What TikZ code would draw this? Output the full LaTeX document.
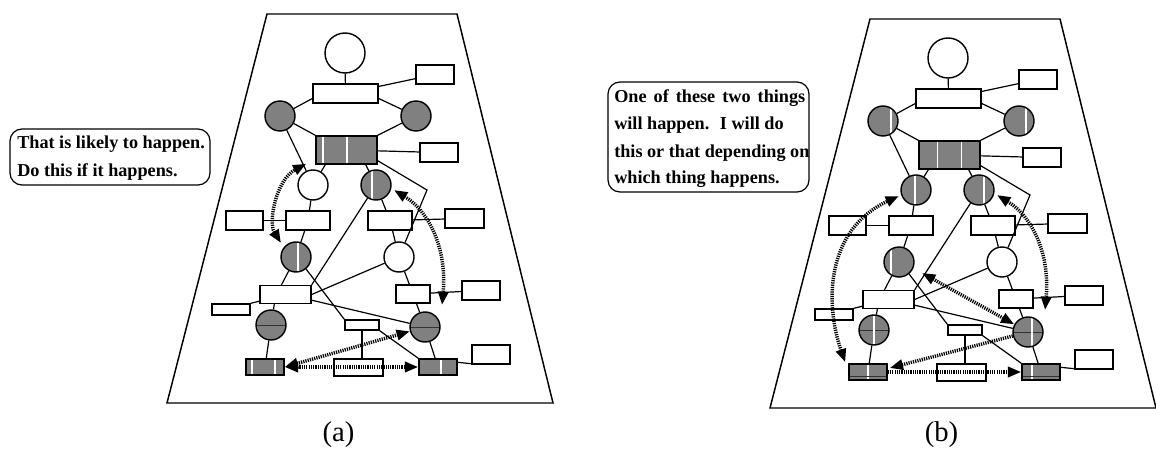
\documentclass[tikz,border=0pt]{standalone}
\usepackage{fontspec}
\setmainfont{Liberation Serif}
\usetikzlibrary{arrows.meta,calc}
\definecolor{dither}{gray}{0.5}

\tikzset{
  ink/.style={draw=black,line width=1.05pt},
  wc/.style={circle,ink,fill=white,minimum size=22.5pt,inner sep=0pt},
  gc/.style={wc,fill=dither},
  bx/.style 2 args={rectangle,ink,fill=white,inner sep=0pt,minimum width=#1*0.75pt,minimum height=#2*0.75pt},
  gbx/.style 2 args={bx={#1}{#2},fill=dither},
  link/.style={line width=0.9pt},
  dotlink/.style={line width=2.6pt,dash pattern=on 0.9pt off 0.8pt},
  vsplit/.style={path picture={\foreach \xo in {#1}{\draw[white,line width=0.8pt] ([xshift=\xo*0.75pt]path picture bounding box.north) -- ([xshift=\xo*0.75pt]path picture bounding box.south);}}},
  hsplit/.style={path picture={\draw[black!80,line width=0.6pt] (path picture bounding box.west) -- (path picture bounding box.east);}},
  hvsplit/.style={path picture={\draw[black!80,line width=0.6pt] (path picture bounding box.west) -- (path picture bounding box.east);\draw[white,line width=0.8pt] ([xshift=#1*0.75pt]path picture bounding box.north) -- ([xshift=#1*0.75pt]path picture bounding box.south);}},
  vbsplit/.style={path picture={\draw[white,line width=0.8pt] ([xshift=#1*0.75pt]path picture bounding box.north) -- ([xshift=#1*0.75pt]path picture bounding box.south);\draw[black!80,line width=0.6pt] ([yshift=2.5pt]path picture bounding box.south west) -- ([yshift=2.5pt]path picture bounding box.south east);}},
  plate/.style={line width=1.1pt,line join=miter},
  notebox/.style={draw,line width=0.9pt,rounded corners=9pt,inner sep=0pt},
  txt/.style={anchor=base west,inner sep=0pt,font=\fontsize{13.65pt}{16pt}\selectfont\bfseries},
  figtag/.style={anchor=base,inner sep=0pt,font=\fontsize{21.5pt}{24pt}\selectfont},
  % panel (a) node looks
  aL1/.style={}, aL2/.style={}, aB1/.style={vsplit={-23.5,0.5}},
  aC3L/.style={wc}, aC3R/.style={vsplit=-4}, aC5L/.style={vsplit=2},
  aC7L/.style={hsplit}, aC7R/.style={hsplit},
  aR8a/.style={vsplit={-13,10}}, aR8c/.style={vsplit=3},
  % panel (b) node looks
  bL1/.style={vsplit=8}, bL2/.style={vsplit=7}, bB1/.style={vsplit={-12,12}},
  bC3L/.style={gc,vsplit=-1}, bC3R/.style={vsplit=5}, bC5L/.style={vsplit=-8},
  bC7L/.style={hvsplit=0}, bC7R/.style={hvsplit=4},
  bR8a/.style={vbsplit=0}, bR8c/.style={vbsplit=-9},
}

% outline of one panel
\newcommand\netplate{\draw[plate] (267,14) -- (457,14) -- (553,403) -- (167,403) -- cycle;}

% all nodes of one panel, names prefixed with #1
\newcommand\netnodes[1]{%
  \node[wc,minimum size=30pt] (#1-C0) at (345,53) {};
  \node[bx={65}{19}] (#1-R0) at (345.5,93.5) {};
  \node[bx={38}{19}] (#1-R0a) at (435,74.5) {};
  \node[gc,#1L1] (#1-L1) at (280,116) {};
  \node[gc,#1L2] (#1-L2) at (416,116) {};
  \node[gbx={61}{28},#1B1] (#1-B1) at (346.5,150) {};
  \node[bx={38}{19}] (#1-R1a) at (439,152.5) {};
  \node[#1C3L] (#1-C3L) at (313,185) {};
  \node[gc,#1C3R] (#1-C3R) at (376,185) {};
  \node[bx={37}{19}] (#1-R4a) at (244.5,220.5) {};
  \node[bx={44}{19}] (#1-R4b) at (308,220.5) {};
  \node[bx={44}{19}] (#1-R4c) at (390,220.5) {};
  \node[bx={39}{19}] (#1-R4d) at (464.5,218.5) {};
  \node[gc,#1C5L] (#1-C5L) at (296,257) {};
  \node[wc] (#1-C5R) at (399,257) {};
  \node[bx={51}{18}] (#1-R6a) at (285.5,294.5) {};
  \node[bx={38}{11}] (#1-R6s) at (231,309.5) {};
  \node[bx={34}{18}] (#1-R6c) at (413,294) {};
  \node[bx={38}{19}] (#1-R6d) at (481,290.5) {};
  \node[gc,#1C7L] (#1-C7L) at (271,325) {};
  \node[bx={34}{10}] (#1-Rm) at (362,325) {};
  \node[gc,#1C7R] (#1-C7R) at (425,327) {};
  \node[gbx={38}{16},#1R8a] (#1-R8a) at (265,367) {};
  \node[bx={49}{17}] (#1-R8b) at (358.5,367.5) {};
  \node[gbx={38}{16},#1R8c] (#1-R8c) at (438,367) {};
  \node[bx={38}{19}] (#1-R8d) at (491,354.5) {};
  \coordinate (#1-bend) at (427,190);
}

% solid connectors of one panel
\newcommand\netlinks[1]{%
  \draw[link] (#1-C0) -- (#1-R0);
  \draw[link] (#1-R0) -- (#1-R0a);
  \draw[link] ($(#1-R0.west)+(0,5)$) -- (#1-L1);
  \draw[link] ($(#1-R0.east)+(0,5)$) -- (#1-L2);
  \draw[link] (#1-L1) -- (#1-B1.north west);
  \draw[link] (#1-L2) -- (#1-B1.north east);
  \draw[link] (#1-B1) -- (#1-R1a);
  \draw[link] (#1-L1) -- (#1-C3L);
  \draw[link] (#1-C3L) -- ($(#1-B1.south west)+(10,0)$);
  \draw[link] (#1-C3R) -- ($(#1-B1.south east)+(-12,0)$);
  \draw[link] ($(#1-B1.south east)+(0,-4)$) -- (#1-bend) -- (#1-C5R);
  \draw[link] (#1-C3L) -- (#1-R4b);
  \draw[link] (#1-R4a) -- (#1-R4b);
  \draw[link] (#1-R4b) -- (#1-C5L);
  \draw[link] (#1-C3R) -- (#1-R4c);
  \draw[link] (#1-R4c) -- (#1-R4d);
  \draw[link] (#1-R4c) -- (#1-C5R);
  \draw[link] (#1-C3R) -- (#1-R6a.north east);
  \draw[link] (#1-C5L) -- ($(#1-R6a.north)+(-4,0)$);
  \draw[link] (#1-C5L.-50) -- (#1-Rm.north west);
  \draw[link] (#1-C5R) -- (#1-R6a.east);
  \draw[link] ($(#1-R6a.south east)+(0,-4)$) -- (#1-C7R);
  \draw[link] ($(#1-R6a.south west)+(0,-3)$) -- (#1-R6s.north east);
  \draw[link] ($(#1-R6a.south west)+(15,0)$) -- (#1-C7L);
  \draw[link] (#1-C5R) -- (#1-R6c);
  \draw[link] (#1-R6c) -- (#1-R6d);
  \draw[link] (#1-R6c) -- (#1-C7R);
  \draw[link] (#1-C7L) -- (#1-R8a);
  \draw[link] (#1-Rm.south) -- (#1-Rm.south |- #1-R8b.north);
  \draw[link] (#1-Rm.south east) -- (#1-R8c.north west);
  \draw[link] (#1-C7R) -- (#1-R8c);
  \draw[link] ($(#1-R8c.north east)+(0,4)$) -- ($(#1-R8d.south west)+(0,-1)$);
}

\begin{document}
\begin{tikzpicture}[x=0.75pt,y=-0.75pt,>={Triangle[length=10pt,width=7.5pt]}]
\useasboundingbox (0,0) rectangle (1156,449);

% ---- panel (a)
\begin{scope}
  \netplate
  \netnodes{a}
  \netlinks{a}
  \draw[dotlink,<->] ($(a-C5L)+(-15,-14)$) .. controls (268,222) and (276,180) .. ($(a-B1.south west)+(-9,-1)$);
  \draw[dotlink,<->] ($(a-C3R)+(18,5)$) .. controls (430,212) and (447,250) .. ($(a-C7R)+(17,-22)$);
  \draw[dotlink,<->] (a-R8a.east) -- (a-R8c.west);
  \draw[dotlink,<->] (a-R8a.east) -- (a-C7R);
\end{scope}

% ---- panel (b)
\begin{scope}[shift={(603,5)}]
  \netplate
  \netnodes{b}
  \netlinks{b}
  \draw[dotlink,<->] ($(b-R8a.north west)+(-3,-1)$) .. controls (222,300) and (222,225) .. ($(b-C3L)+(-17,6)$);
  \draw[dotlink,<->] ($(b-C3R)+(18,5)$) .. controls (430,212) and (447,250) .. ($(b-C7R)+(17,-22)$);
  \draw[dotlink,<->] ($(b-C5L)+(23,11)$) -- (b-C7R);
  \draw[dotlink,->] (b-C7R) -- ($(b-R8a.east)+(2,-4)$);
  \draw[dotlink,->] (b-R8a.east) -- (b-R8c.west);
\end{scope}

% ---- speech boxes
\node[notebox,minimum width=150pt,minimum height=42pt] (noteA) at (110,157) {};
\node[txt] (noteA1) at (17,149) {That is likely to happen.};
\node[txt] (noteA2) at (17,176) {Do this if it happens.};

\node[notebox,minimum width=150.75pt,minimum height=82.5pt] (noteB) at (708.5,137) {};
\node[txt] (noteB1) at (614,103) {\makebox[143.25pt][s]{One of these two things}};
\node[txt] (noteB2) at (614,130) {will happen.~ I will do};
\node[txt] (noteB3) at (614,157) {this or that depending on};
\node[txt] (noteB4) at (614,184) {which thing happens.};

% ---- captions
\node[figtag] (capA) at (338.5,441.5) {(a)};
\node[figtag] (capB) at (941.5,441.5) {(b)};
\end{tikzpicture}
\end{document}
